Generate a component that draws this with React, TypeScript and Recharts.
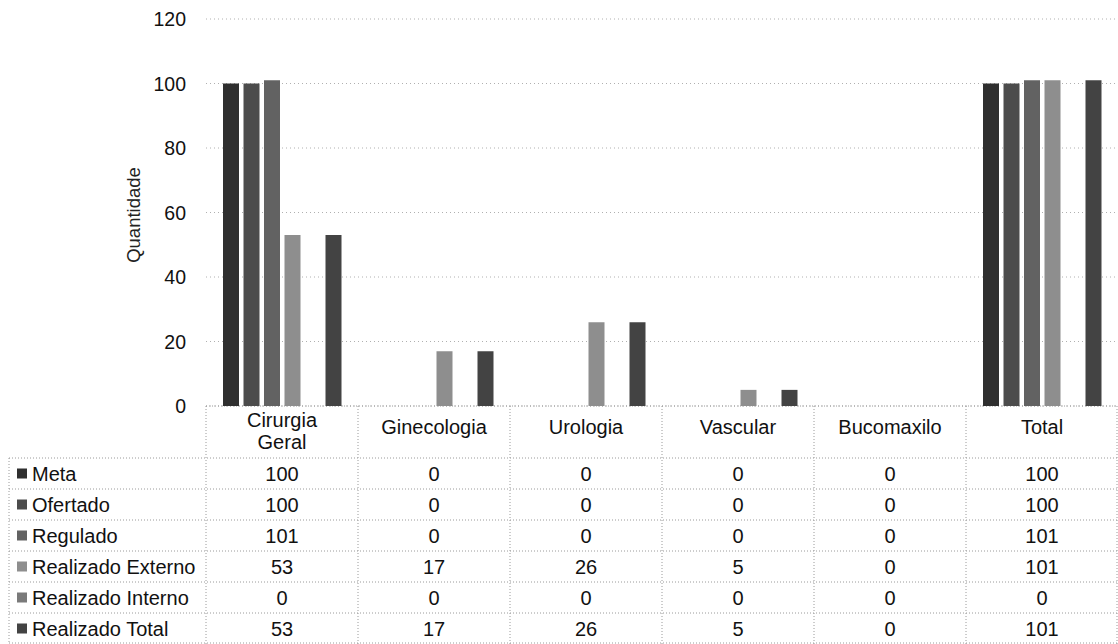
import React from 'react';
import { BarChart, Bar, XAxis, YAxis, CartesianGrid, Customized } from 'recharts';

const categories = ['Cirurgia Geral', 'Ginecologia', 'Urologia', 'Vascular', 'Bucomaxilo', 'Total'];
const meta = [100, 0, 0, 0, 0, 100];
const ofertado = [100, 0, 0, 0, 0, 100];
const regulado = [101, 0, 0, 0, 0, 101];
const realizadoExterno = [53, 17, 26, 5, 0, 101];
const realizadoInterno = [0, 0, 0, 0, 0, 0];
const realizadoTotal = [53, 17, 26, 5, 0, 101];
const yTicks = [0, 20, 40, 60, 80, 100, 120];

const seriesNames = ['Meta', 'Ofertado', 'Regulado', 'Realizado Externo', 'Realizado Interno', 'Realizado Total'];
const seriesKeys = ['meta', 'ofertado', 'regulado', 'realizadoExterno', 'realizadoInterno', 'realizadoTotal'];
const seriesValues = [meta, ofertado, regulado, realizadoExterno, realizadoInterno, realizadoTotal];
const seriesColors = ['#2f2f2f', '#4c4c4c', '#626262', '#8e8e8e', '#7a7a7a', '#434343'];

const data = categories.map((name, i) => {
  const row: any = { name, idx: i };
  seriesKeys.forEach((k, s) => { row[k] = seriesValues[s][i]; });
  return row;
});

const W = 1118;
const H = 644;
const PLOT_LEFT = 206;
const PLOT_TOP = 19;
const AXIS_Y = 406;
const HEADER_BOTTOM = 458;
const ROW_H = 31;
const FONT = 'Arial, "Liberation Sans", sans-serif';
const LINE = '#9a9a9a';
const DASH = '1 2';
const TFS = 20;

const YTick = (props: any) => {
  const { y, payload } = props;
  return (
    <text x={186} y={y} textAnchor="end" dominantBaseline="central" fontSize={19.5} fill="#111" fontFamily={FONT}>
      {payload.value}
    </text>
  );
};

const XTick = (props: any) => {
  const { x, payload, index } = props;
  const colW = (W - PLOT_LEFT) / categories.length;
  const left = x - colW / 2;
  const i = typeof index === 'number' ? index : categories.indexOf(payload.value);
  const label: string = payload.value;
  const parts = label === 'Cirurgia Geral' ? ['Cirurgia', 'Geral'] : [label];
  return (
    <g>
      <line x1={left} x2={left} y1={AXIS_Y} y2={H} stroke={LINE} strokeDasharray={DASH} />
      {i === categories.length - 1 && (
        <line x1={left + colW - 1} x2={left + colW - 1} y1={AXIS_Y} y2={H} stroke={LINE} strokeDasharray={DASH} />
      )}
      {parts.length === 2 ? (
        <>
          <text x={x} y={420} textAnchor="middle" dominantBaseline="central" fontSize={TFS} fill="#111" fontFamily={FONT}>{parts[0]}</text>
          <text x={x} y={442} textAnchor="middle" dominantBaseline="central" fontSize={TFS} fill="#111" fontFamily={FONT}>{parts[1]}</text>
        </>
      ) : (
        <text x={x} y={427} textAnchor="middle" dominantBaseline="central" fontSize={TFS} fill="#111" fontFamily={FONT}>{parts[0]}</text>
      )}
      {seriesValues.map((vals, s) => (
        <text key={s} x={x} y={HEADER_BOTTOM + ROW_H * s + ROW_H / 2} textAnchor="middle" dominantBaseline="central" fontSize={TFS} fill="#111" fontFamily={FONT}>
          {vals[i]}
        </text>
      ))}
    </g>
  );
};

const TableFrame = () => {
  return (
    <g>
      <line x1={PLOT_LEFT} x2={W} y1={AXIS_Y} y2={AXIS_Y} stroke={LINE} strokeDasharray={DASH} />
      <line x1={9} x2={9} y1={HEADER_BOTTOM} y2={H} stroke={LINE} strokeDasharray={DASH} />
      {seriesNames.map((_, s) => (
        <line key={'h' + s} x1={9} x2={W} y1={HEADER_BOTTOM + ROW_H * s} y2={HEADER_BOTTOM + ROW_H * s} stroke={LINE} strokeDasharray={DASH} />
      ))}
      <line x1={9} x2={W} y1={H - 1} y2={H - 1} stroke={LINE} strokeDasharray={DASH} />
      {seriesNames.map((n, s) => {
        const cy = HEADER_BOTTOM + ROW_H * s + ROW_H / 2;
        return (
          <g key={'l' + s}>
            <rect x={17} y={cy - 5} width={10} height={10} fill={seriesColors[s]} />
            <text x={32} y={cy} dominantBaseline="central" fontSize={TFS} fill="#111" fontFamily={FONT}>{n}</text>
          </g>
        );
      })}
      <text x={0} y={0} transform="translate(133,215) rotate(-90)" textAnchor="middle" dominantBaseline="central" fontSize={18.5} fill="#222" fontFamily={FONT}>
        Quantidade
      </text>
    </g>
  );
};

export default function App() {
  return (
    <div style={{ position: 'absolute', left: 0, top: 0, width: W, height: H, background: '#fff', fontFamily: FONT }}>
      <BarChart
        width={W}
        height={H}
        data={data}
        margin={{ top: PLOT_TOP, right: 0, left: 0, bottom: 0 }}
        barSize={16}
        barGap={4.5}
      >
        <CartesianGrid vertical={false} stroke="#b0b0b0" strokeDasharray="1 3" />
        <XAxis
          dataKey="name"
          height={H - AXIS_Y}
          axisLine={false}
          tickLine={false}
          interval={0}
          tick={<XTick />}
        />
        <YAxis
          width={PLOT_LEFT}
          domain={[0, 120]}
          ticks={yTicks}
          axisLine={false}
          tickLine={false}
          tick={<YTick />}
          interval={0}
        />
        {seriesKeys.map((k, s) => (
          <Bar key={k} dataKey={k} name={seriesNames[s]} fill={seriesColors[s]} isAnimationActive={false} />
        ))}
        <Customized component={TableFrame} />
      </BarChart>
    </div>
  );
}
